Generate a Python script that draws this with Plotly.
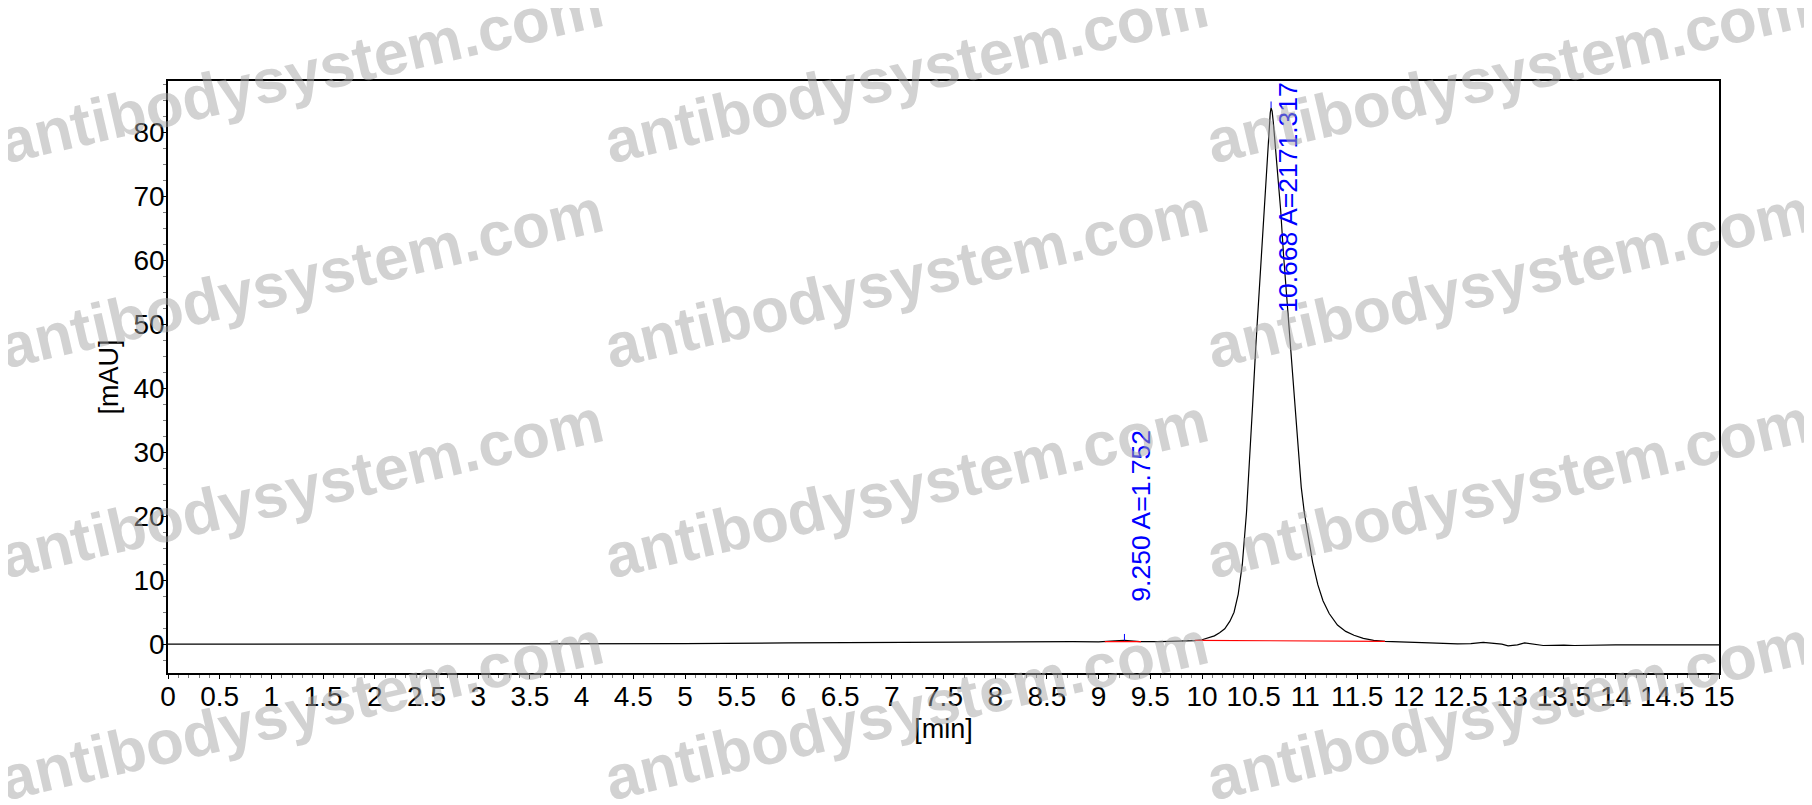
#cromatograma HPLC con marca de agua

import plotly.graph_objects as go

tiempo = [0.0, 1.0, 2.0, 3.0, 4.0, 5.0, 6.0, 6.5, 7.0, 7.5, 8.0, 8.25, 8.5, 8.75,
          9.0, 9.1, 9.2, 9.25, 9.3, 9.4, 9.6, 9.8, 9.93, 10.0, 10.06, 10.12, 10.17,
          10.22, 10.27, 10.31, 10.35, 10.39, 10.43, 10.46, 10.49, 10.52, 10.55,
          10.58, 10.61, 10.635, 10.65, 10.66, 10.668, 10.678, 10.69, 10.71, 10.73,
          10.76, 10.79, 10.83, 10.86, 10.88, 10.905, 10.93, 10.96, 10.99, 11.03,
          11.07, 11.12, 11.17, 11.23, 11.31, 11.39, 11.47, 11.56, 11.66, 11.77,
          11.9, 12.0, 12.2, 12.47, 12.6, 12.72, 12.8, 12.9, 12.96, 13.05, 13.12,
          13.2, 13.3, 13.5, 13.6, 14.0, 14.5, 15.0]
senal = [0.0, 0.0, 0.0, 0.0, 0.05, 0.1, 0.2, 0.25, 0.3, 0.35, 0.3, 0.4, 0.35, 0.4,
         0.35, 0.4, 0.55, 0.6, 0.55, 0.4, 0.4, 0.45, 0.55, 0.7, 0.95, 1.3, 1.8,
         2.4, 3.6, 5.0, 7.8, 12.5, 20.5, 28.5, 37.5, 46.5, 54.5,
         62.0, 69.5, 76.0, 80.5, 83.0, 83.8, 83.3, 81.5, 78.0, 74.5,
         68.0, 60.5, 52.0, 45.5, 42.0, 36.0, 30.0, 24.5, 20.5, 16.5,
         12.8, 9.3, 6.8, 4.8, 3.0, 2.0, 1.4, 0.9, 0.6, 0.45,
         0.35, 0.3, 0.2, 0.05, 0.1, 0.3, 0.2, 0.0, -0.25, -0.1, 0.2,
         0.0, -0.2, -0.15, -0.2, -0.1, -0.1, -0.1]

# Picos integrados
tr_picos = [9.250, 10.668]
altura_picos = [0.6, 83.8]
area_picos = [1.752, 2171.317]
y_etiqueta = [6.4, 51.4]

# Líneas base de integración (inicio, fin)
base_t0 = [9.06, 9.93]
base_t1 = [9.41, 11.77]
base_y0 = [0.4, 0.6]
base_y1 = [0.4, 0.45]

# Marca de agua
marca = "antibodysystem.com"
marca_x = [293, 898, 1500]
marca_y = [66, 270, 480, 702]

fuente = "Liberation Sans, Arial, sans-serif"
W, H = 1812, 805
L, R, T, B = 160, 101, 73, 140

fig = go.Figure()

# Señal
fig.add_trace(go.Scatter(x=tiempo, y=senal, mode="lines",
                         line=dict(color="black", width=1.2), hoverinfo="x+y"))

# Líneas base en rojo
bx, by = [], []
for i in range(len(base_t0)):
    bx += [base_t0[i], base_t1[i], None]
    by += [base_y0[i], base_y1[i], None]
fig.add_trace(go.Scatter(x=bx, y=by, mode="lines",
                         line=dict(color="red", width=1.2), hoverinfo="skip"))

# Marcas azules en el ápice de cada pico
mx, my = [], []
for i in range(len(tr_picos)):
    mx += [tr_picos[i], tr_picos[i], None]
    my += [altura_picos[i], altura_picos[i] + 1.0, None]
fig.add_trace(go.Scatter(x=mx, y=my, mode="lines",
                         line=dict(color="blue", width=1), hoverinfo="skip"))

# Etiquetas de los picos
for i in range(len(tr_picos)):
    fig.add_annotation(x=tr_picos[i], y=y_etiqueta[i],
                       text=f"{tr_picos[i]:.3f} A={area_picos[i]:.3f}",
                       textangle=-90, showarrow=False,
                       xanchor="left", yanchor="bottom",
                       font=dict(family=fuente, size=26.5, color="blue"))

# Marca de agua repetida
pw, ph = W - L - R, H - T - B
for yy in marca_y:
    for xx in marca_x:
        fig.add_annotation(x=(xx - L) / pw, y=(H - B - yy) / ph,
                           xref="paper", yref="paper", text=marca,
                           textangle=-13, showarrow=False,
                           xanchor="center", yanchor="middle",
                           font=dict(family=fuente, size=62, weight="bold",
                                     color="rgba(165,165,165,0.5)"))

eje = dict(showline=True, linecolor="black", linewidth=1.5, mirror=True,
           ticks="outside", ticklen=4, tickwidth=1, tickcolor="black",
           showgrid=False, zeroline=False, automargin=False,
           tickfont=dict(family=fuente, size=28, color="black"))

fig.update_layout(
    width=W, height=H,
    margin=dict(l=L, r=R, t=T, b=B),
    paper_bgcolor="white", plot_bgcolor="white",
    showlegend=False,
    font=dict(family=fuente, color="black"),
    xaxis=dict(eje, range=[0, 15], dtick=0.5, tick0=0, ticklabelstandoff=-6,
               minor=dict(dtick=0.1, ticks="outside", ticklen=3,
                          tickcolor="gray", showgrid=False),
               title=dict(text="[min]", standoff=8,
                          font=dict(family=fuente, size=27))),
    yaxis=dict(eje, range=[-4.5, 88], dtick=10, tick0=0, ticklabelstandoff=-8,
               minor=dict(dtick=2.5, ticks="outside", ticklen=3,
                          tickcolor="gray", showgrid=False),
               title=dict(text="[mAU]", standoff=7,
                          font=dict(family=fuente, size=27))),
)

fig.write_html("out.html")
